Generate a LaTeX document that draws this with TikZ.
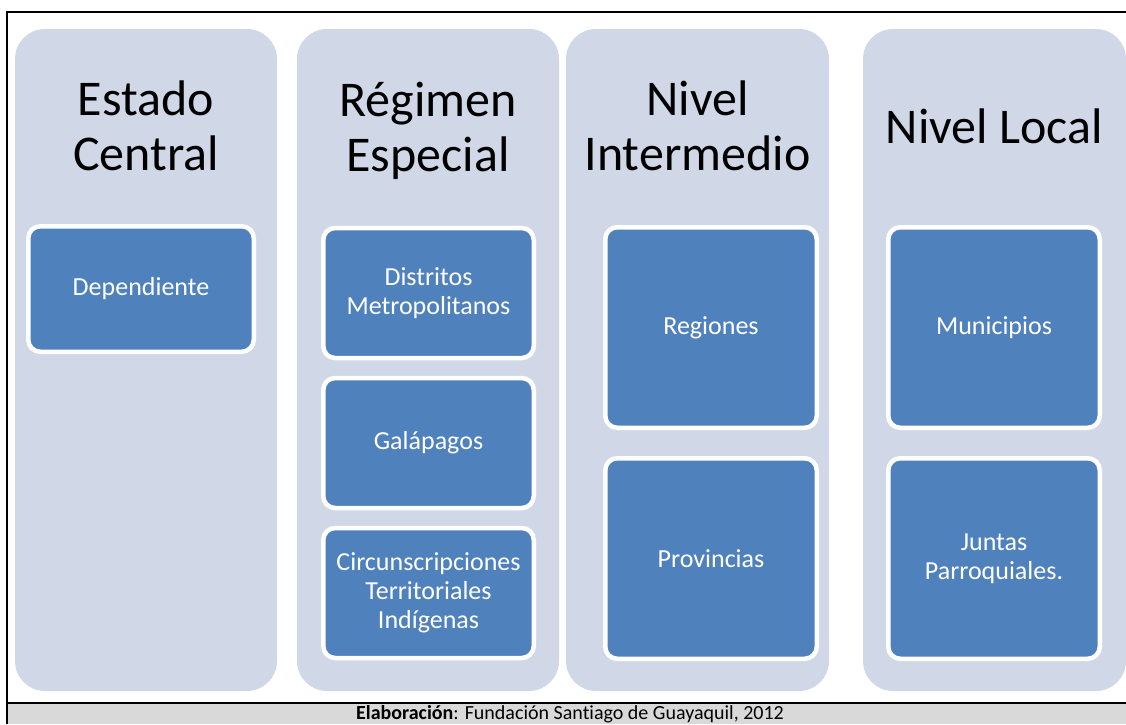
\documentclass[tikz,border=0pt]{standalone}
\usepackage{fontspec}
\setmainfont[Ligatures=CommonOff]{Carlito}
\definecolor{fondo}{HTML}{D0D8E8}
\definecolor{azulcaja}{HTML}{4F81BD}
\definecolor{pie}{HTML}{D9D9D9}
\begin{document}
\begin{tikzpicture}[x=1pt, y=-1pt,
  titulo/.style={align=center, font=\fontsize{50}{55}\selectfont},
  caja/.style={draw=white, line width=4.5pt, fill=azulcaja, rounded corners=12pt,
    text=white, align=center, inner sep=0pt, font=\fontsize{26}{29}\selectfont}]
  \useasboundingbox (0,0) rectangle (1126,724);
  \fill[pie] (7,703) rectangle (1126,724);
  \draw[line width=2pt] (7,724) -- (7,12) -- (1126,12);
  \draw[line width=2pt] (7,703) -- (1126,703);
  \fill[fondo, rounded corners=30pt] (15,29) rectangle (277,691);
  \fill[fondo, rounded corners=30pt] (297,29) rectangle (559,691);
  \fill[fondo, rounded corners=30pt] (566,29) rectangle (829,691);
  \fill[fondo, rounded corners=30pt] (863,29) rectangle (1126,691);
  \node[titulo] (estado) at (146,126) {Estado\\Central};
  \node[titulo] (regimen) at (428,130.5) {Régimen\\Especial};
  \node[titulo] (intermedio) at (697.5,126) {Nivel\\Intermedio};
  \node[titulo] (local) at (994.5,126.5) {Nivel Local};
  \node[caja, minimum width=225.5pt, minimum height=125.5pt] (dependiente) at (141,289) {Dependiente};
  \node[caja, minimum width=210.5pt, minimum height=130pt] (distritos) at (428.5,293) {Distritos\\Metropolitanos};
  \node[caja, minimum width=210.5pt, minimum height=130pt] (galapagos) at (428.5,443) {Galápagos};
  \node[caja, minimum width=210.5pt, minimum height=130pt] (circuns) at (428.5,593) {Circunscripciones\\Territoriales\\Indígenas};
  \node[caja, minimum width=211.5pt, minimum height=200.5pt] (regiones) at (711,327.5) {Regiones};
  \node[caja, minimum width=211.5pt, minimum height=200.5pt] (provincias) at (711,558.5) {Provincias};
  \node[caja, minimum width=211.5pt, minimum height=200.5pt] (municipios) at (994,327.5) {Municipios};
  \node[caja, minimum width=211.5pt, minimum height=200.5pt] (juntas) at (994,558.5) {Juntas\\Parroquiales.};
  \node[font=\fontsize{20}{22}\selectfont] (fuente) at (570,714) {\textbf{Elaboración}: Fundación Santiago de Guayaquil, 2012};
\end{tikzpicture}
\end{document}
